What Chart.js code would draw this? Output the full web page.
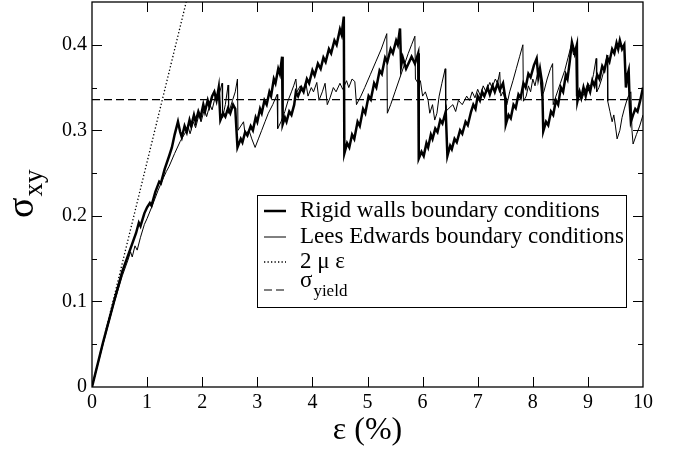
<!DOCTYPE html>
<html>
<head>
<meta charset="utf-8">
<script src="https://cdn.jsdelivr.net/npm/chart.js@4.4.1/dist/chart.umd.min.js"></script>
<style>
html, body { margin: 0; padding: 0; background: #fff; }
#wrap { width: 679px; height: 450px; }
</style>
</head>
<body>
<div id="wrap"><canvas id="stressChart"></canvas></div>
<script>
// strain (%) / shear stress pairs
const rigidWalls = [
  [0,0],[0.2,0.052],[0.4,0.1],[0.55,0.135],[0.7,0.162],[0.8,0.18],[0.85,0.192],[0.88,0.188],[0.95,0.203],
  [1.0,0.21],[1.05,0.215],[1.08,0.212],[1.15,0.228],[1.22,0.24],[1.25,0.238],[1.32,0.255],[1.4,0.27],
  [1.45,0.28],[1.5,0.295],[1.56,0.31],[1.6,0.298],[1.63,0.292],[1.68,0.305],[1.72,0.298],[1.77,0.312],
  [1.8,0.305],[1.85,0.318],[1.88,0.31],[1.93,0.322],[1.97,0.315],[2.02,0.33],[2.05,0.322],[2.1,0.335],
  [2.13,0.328],[2.18,0.34],[2.22,0.345],[2.26,0.335],[2.3,0.35],[2.33,0.312],[2.38,0.32],[2.42,0.316],
  [2.47,0.326],[2.51,0.32],[2.56,0.33],[2.6,0.325],[2.64,0.28],
  [2.7,0.29],[2.73,0.286],[2.78,0.298],[2.82,0.294],[2.88,0.305],[2.92,0.3],[2.97,0.315],[3.0,0.31],
  [3.05,0.325],[3.08,0.32],[3.13,0.335],[3.17,0.33],[3.22,0.345],[3.25,0.34],[3.3,0.36],[3.33,0.355],
  [3.38,0.372],[3.41,0.366],[3.45,0.386],[3.46,0.307],
  [3.5,0.315],[3.53,0.31],[3.58,0.322],[3.62,0.318],[3.67,0.33],[3.7,0.345],[3.74,0.34],[3.8,0.35],
  [3.84,0.345],[3.9,0.36],[3.94,0.355],[4.0,0.37],[4.04,0.364],[4.1,0.378],[4.15,0.372],[4.2,0.385],
  [4.24,0.38],[4.3,0.395],[4.34,0.39],[4.4,0.405],[4.44,0.4],[4.5,0.418],[4.53,0.412],[4.57,0.433],[4.58,0.273],
  [4.63,0.285],[4.67,0.28],[4.72,0.295],[4.76,0.29],[4.82,0.31],[4.86,0.305],[4.92,0.325],[4.96,0.32],
  [5.02,0.34],[5.06,0.336],[5.12,0.355],[5.16,0.35],[5.22,0.37],[5.26,0.366],[5.32,0.385],[5.36,0.38],
  [5.42,0.395],[5.46,0.39],[5.52,0.405],[5.55,0.4],[5.59,0.419],[5.61,0.375],[5.64,0.385],[5.7,0.372],
  [5.8,0.386],[5.86,0.378],[5.92,0.39],[5.93,0.267],
  [5.98,0.275],[6.02,0.27],[6.07,0.285],[6.1,0.28],[6.15,0.295],[6.18,0.29],[6.23,0.302],[6.27,0.298],
  [6.32,0.312],[6.36,0.308],[6.42,0.322],[6.45,0.27],
  [6.5,0.282],[6.53,0.278],[6.58,0.29],[6.62,0.286],[6.68,0.3],[6.72,0.296],[6.78,0.31],[6.82,0.306],
  [6.88,0.322],[6.92,0.33],[6.96,0.325],[7.0,0.34],[7.04,0.335],[7.08,0.345],[7.12,0.34],[7.18,0.35],
  [7.22,0.342],[7.27,0.352],[7.31,0.345],[7.36,0.355],[7.4,0.347],[7.46,0.355],[7.5,0.338],[7.51,0.307],
  [7.56,0.318],[7.6,0.314],[7.65,0.33],[7.69,0.326],[7.74,0.342],[7.78,0.338],[7.83,0.355],[7.87,0.35],
  [7.92,0.366],[7.96,0.362],[8.02,0.376],[8.07,0.384],[8.1,0.362],[8.13,0.372],[8.17,0.355],[8.19,0.299],
  [8.24,0.31],[8.28,0.306],[8.33,0.322],[8.37,0.318],[8.42,0.335],[8.46,0.33],[8.51,0.35],[8.55,0.345],
  [8.6,0.365],[8.63,0.36],[8.67,0.38],[8.71,0.403],[8.76,0.39],[8.8,0.4],[8.81,0.334],
  [8.85,0.345],[8.88,0.338],[8.92,0.35],[8.96,0.34],[9.0,0.352],[9.04,0.345],[9.08,0.358],[9.12,0.352],
  [9.17,0.365],[9.21,0.36],[9.26,0.375],[9.3,0.37],[9.35,0.385],[9.39,0.38],[9.44,0.395],[9.48,0.39],
  [9.52,0.402],[9.55,0.395],[9.58,0.405],[9.62,0.395],[9.66,0.4],[9.69,0.35],[9.72,0.365],[9.74,0.37],
  [9.76,0.33],[9.78,0.31],[9.82,0.318],[9.86,0.325],[9.9,0.322],[9.95,0.335],[10,0.35]
];
const leesEdwards = [
  [0,0],[0.2,0.05],[0.4,0.098],[0.55,0.13],[0.65,0.148],[0.7,0.158],[0.73,0.152],[0.78,0.165],[0.82,0.16],
  [0.88,0.175],[0.95,0.19],[1.0,0.197],[1.1,0.213],[1.2,0.23],[1.3,0.245],[1.35,0.252],[1.4,0.258],
  [1.5,0.273],[1.6,0.287],[1.7,0.298],[1.75,0.303],[1.78,0.296],[1.84,0.31],[1.88,0.303],[1.94,0.318],
  [1.98,0.31],[2.04,0.325],[2.08,0.316],[2.14,0.33],[2.18,0.324],[2.24,0.34],[2.28,0.335],[2.36,0.355],
  [2.37,0.315],[2.42,0.33],[2.47,0.353],[2.48,0.32],[2.55,0.335],[2.6,0.345],[2.64,0.36],[2.65,0.3],
  [2.7,0.305],[2.75,0.31],[2.78,0.295],[2.85,0.3],[2.9,0.29],[2.96,0.28],[3.02,0.29],[3.08,0.3],
  [3.14,0.31],[3.2,0.32],[3.28,0.33],[3.36,0.342],[3.37,0.302],[3.43,0.31],[3.5,0.322],[3.56,0.335],
  [3.62,0.345],[3.66,0.352],[3.7,0.36],[3.72,0.345],[3.78,0.352],[3.82,0.345],[3.88,0.356],[3.92,0.34],
  [3.98,0.35],[4.02,0.345],[4.08,0.356],[4.12,0.335],[4.18,0.345],[4.23,0.355],[4.27,0.33],[4.32,0.338],
  [4.38,0.35],[4.43,0.345],[4.5,0.355],[4.55,0.348],[4.62,0.358],[4.66,0.35],[4.72,0.36],[4.77,0.357],
  [4.8,0.33],[4.88,0.34],[4.95,0.35],[5.05,0.365],[5.15,0.38],[5.25,0.395],[5.35,0.413],[5.36,0.32],
  [5.42,0.33],[5.5,0.345],[5.58,0.36],[5.66,0.375],[5.74,0.39],[5.8,0.4],[5.86,0.41],[5.87,0.36],
  [5.92,0.355],[5.96,0.358],[6.0,0.34],[6.05,0.345],[6.1,0.335],[6.13,0.32],[6.18,0.33],[6.22,0.312],
  [6.26,0.32],[6.3,0.34],[6.35,0.355],[6.41,0.372],[6.42,0.322],[6.48,0.326],[6.55,0.33],[6.6,0.322],
  [6.65,0.335],[6.72,0.33],[6.8,0.34],[6.85,0.335],[6.9,0.345],[6.95,0.338],[7.0,0.348],[7.05,0.34],
  [7.1,0.352],[7.15,0.345],[7.22,0.356],[7.26,0.35],[7.32,0.36],[7.36,0.355],[7.4,0.368],[7.42,0.34],
  [7.46,0.345],[7.5,0.335],[7.53,0.33],[7.58,0.345],[7.64,0.358],[7.7,0.372],[7.76,0.386],[7.82,0.4],
  [7.83,0.334],[7.88,0.34],[7.92,0.352],[7.96,0.345],[8.0,0.36],[8.04,0.352],[8.08,0.365],[8.12,0.37],
  [8.16,0.34],[8.2,0.345],[8.26,0.36],[8.32,0.372],[8.36,0.378],[8.37,0.33],[8.42,0.34],[8.5,0.355],
  [8.58,0.37],[8.64,0.385],[8.7,0.4],[8.74,0.388],[8.78,0.395],[8.79,0.34],[8.84,0.345],[8.88,0.335],
  [8.94,0.345],[9.0,0.355],[9.05,0.35],[9.1,0.365],[9.15,0.384],[9.16,0.345],[9.2,0.35],[9.25,0.36],
  [9.3,0.372],[9.35,0.388],[9.36,0.334],[9.4,0.322],[9.44,0.31],[9.47,0.318],[9.5,0.305],[9.53,0.29],
  [9.58,0.3],[9.62,0.315],[9.66,0.325],[9.72,0.338],[9.78,0.345],[9.8,0.3],[9.82,0.284],[9.88,0.295],
  [9.94,0.305],[10,0.318]
];
const elasticStrain = [0, 1.71];
const elasticStress = [0, 0.45];
const yieldStrain = [0, 10];
const yieldStress = [0.336, 0.336];

const xTicks = [0, 1, 2, 3, 4, 5, 6, 7, 8, 9, 10];
const yTicks = [0, 0.1, 0.2, 0.3, 0.4];
const yMinorTicks = [0.05, 0.15, 0.25, 0.35];
const seriesLabels = ['Rigid walls boundary conditions', 'Lees Edwards boundary conditions', '2 \u03bc \u03b5', '\u03c3_yield'];

const SERIF = '"Liberation Serif", "DejaVu Serif", serif';
const toPoints = (xs, ys) => xs.map((v, i) => ({ x: v, y: ys[i] }));
const pairs = arr => arr.map(p => ({ x: p[0], y: p[1] }));

// frame with inward ticks, legend box and axis titles
const framePlugin = {
  id: 'frame',
  afterDraw(chart) {
    const { ctx, chartArea: a, scales: { x, y } } = chart;
    ctx.save();
    ctx.strokeStyle = '#000';
    ctx.lineWidth = 1.3;
    ctx.strokeRect(a.left, a.top, a.right - a.left, a.bottom - a.top);

    ctx.lineWidth = 1;
    ctx.beginPath();
    xTicks.forEach(v => {
      if (v <= x.min || v >= x.max) return;
      const px = Math.round(x.getPixelForValue(v)) + 0.5;
      ctx.moveTo(px, a.bottom); ctx.lineTo(px, a.bottom - 10);
      ctx.moveTo(px, a.top); ctx.lineTo(px, a.top + 10);
    });
    yTicks.concat(yMinorTicks).forEach(v => {
      if (v <= y.min || v >= y.max) return;
      const len = yTicks.includes(v) ? 10 : 5;
      const py = Math.round(y.getPixelForValue(v)) + 0.5;
      ctx.moveTo(a.left, py); ctx.lineTo(a.left + len, py);
      ctx.moveTo(a.right, py); ctx.lineTo(a.right - len, py);
    });
    ctx.stroke();

    // legend
    const lx = a.left + 165, ly = a.top + 193, lw = 369, lh = 112;
    ctx.fillStyle = '#fff';
    ctx.fillRect(lx, ly, lw, lh);
    ctx.lineWidth = 1;
    ctx.strokeRect(lx + 0.5, ly + 0.5, lw, lh);
    const rowLine = [16, 42, 67, 95];
    const rowText = [22, 48, 73, 92];
    chart.data.datasets.forEach((ds, i) => {
      ctx.save();
      ctx.strokeStyle = '#000';
      ctx.lineWidth = ds.borderWidth;
      ctx.setLineDash(ds.borderDash || []);
      ctx.beginPath();
      ctx.moveTo(lx + 7, ly + rowLine[i]);
      ctx.lineTo(lx + 29, ly + rowLine[i]);
      ctx.stroke();
      ctx.restore();
      ctx.fillStyle = '#000';
      ctx.textBaseline = 'alphabetic';
      ctx.textAlign = 'left';
      const parts = ds.label.split('_');
      ctx.font = '23px ' + SERIF;
      ctx.fillText(parts[0], lx + 43, ly + rowText[i]);
      if (parts[1]) {
        const w = ctx.measureText(parts[0]).width;
        ctx.font = '17px ' + SERIF;
        ctx.fillText(parts[1], lx + 43 + w + 1, ly + rowText[i] + 9);
      }
    });

    // x title
    ctx.fillStyle = '#000';
    ctx.font = '32px ' + SERIF;
    ctx.textAlign = 'center';
    ctx.fillText('\u03b5 (%)', (a.left + a.right) / 2, 439);

    // y title, rotated
    ctx.translate(33, 218);
    ctx.rotate(-Math.PI / 2);
    ctx.textAlign = 'left';
    ctx.font = '38px ' + SERIF;
    ctx.fillText('\u03c3', 0, 0);
    const sw = ctx.measureText('\u03c3').width;
    ctx.font = '27px ' + SERIF;
    ctx.fillText('xy', sw + 1, 9);
    ctx.restore();
  }
};

new Chart(document.getElementById('stressChart'), {
  type: 'scatter',
  data: {
    datasets: [
      { label: seriesLabels[0], data: pairs(rigidWalls), borderColor: '#000', borderWidth: 2.5 },
      { label: seriesLabels[1], data: pairs(leesEdwards), borderColor: '#000', borderWidth: 1 },
      { label: seriesLabels[2], data: toPoints(elasticStrain, elasticStress), borderColor: '#000', borderWidth: 1.3, borderDash: [1.3, 2.2] },
      { label: seriesLabels[3], data: toPoints(yieldStrain, yieldStress), borderColor: '#000', borderWidth: 1.2, borderDash: [8, 4] }
    ].map(ds => Object.assign(ds, { showLine: true, pointRadius: 0, pointHoverRadius: 0, tension: 0, fill: false }))
  },
  options: {
    responsive: true,
    maintainAspectRatio: false,
    animation: false,
    events: [],
    layout: { padding: { top: 2, right: 36, left: 0, bottom: 0 } },
    plugins: { legend: { display: false }, tooltip: { enabled: false } },
    scales: {
      x: {
        type: 'linear', min: 0, max: 10,
        grid: { display: false, drawTicks: false },
        border: { display: false },
        afterBuildTicks: s => { s.ticks = xTicks.map(v => ({ value: v })); },
        afterFit: s => { s.height = 63; s.paddingLeft = 0; s.paddingRight = 0; },
        ticks: { color: '#000', padding: 4, maxRotation: 0, autoSkip: false, font: { family: SERIF, size: 20 }, callback: v => String(v) }
      },
      y: {
        type: 'linear', min: 0, max: 0.45,
        grid: { display: false, drawTicks: false },
        border: { display: false },
        afterBuildTicks: s => { s.ticks = yTicks.map(v => ({ value: v })); },
        afterFit: s => { s.width = 92; s.paddingTop = 0; s.paddingBottom = 0; },
        ticks: { color: '#000', padding: 5, autoSkip: false, font: { family: SERIF, size: 20 }, callback: v => v === 0 ? '0' : v.toFixed(1) }
      }
    }
  },
  plugins: [framePlugin]
});
</script>
</body>
</html>
